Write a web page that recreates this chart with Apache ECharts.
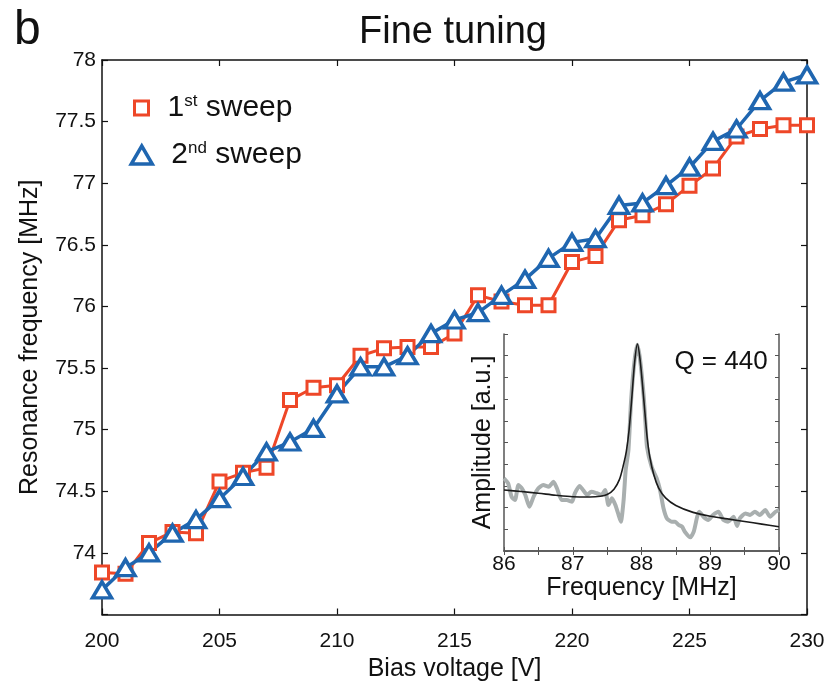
<!DOCTYPE html>
<html>
<head>
<meta charset="utf-8">
<script src="https://cdn.jsdelivr.net/npm/echarts@6/dist/echarts.min.js"></script>
<style>html,body{margin:0;padding:0;background:#fff}#c{width:830px;height:693px}</style>
</head>
<body>
<div id="c"></div>
<script>
// ---- data ----
var biasVoltage = [200,201,202,203,204,205,206,207,208,209,210,211,212,213,214,215,216,217,218,219,220,221,222,223,224,225,226,227,228,229,230];
var sweep1 = [73.84,73.83,74.08,74.17,74.16,74.58,74.65,74.69,75.24,75.34,75.36,75.60,75.66,75.67,75.67,75.78,76.09,76.04,76.01,76.01,76.36,76.41,76.70,76.74,76.83,76.98,77.12,77.38,77.44,77.47,77.47];
var sweep2 = [73.70,73.88,74.00,74.16,74.27,74.44,74.62,74.82,74.90,75.01,75.29,75.51,75.51,75.60,75.78,75.89,75.95,76.09,76.22,76.39,76.52,76.55,76.82,76.84,76.98,77.13,77.34,77.44,77.67,77.82,77.88];
var xTicksMain = [200,205,210,215,220,225,230];
var yTicksMain = [74,74.5,75,75.5,76,76.5,77,77.5,78];

// inset: measured amplitude (grey) and Lorentzian fit (black)
var measFreq = [86.00,86.06,86.11,86.16,86.21,86.26,86.31,86.37,86.43,86.50,86.57,86.65,86.72,86.77,86.84,86.91,86.99,87.03,87.10,87.15,87.21,87.27,87.35,87.42,87.47,87.52,87.57,87.62,87.66,87.70,87.74,87.77,87.81,87.85,87.90,87.94,87.98,88.03,88.06,88.08,88.15,88.22,88.27,88.32,88.37,88.44,88.49,88.54,88.59,88.63,88.71,88.76,88.81,88.84,88.90,88.97,89.04,89.12,89.19,89.26,89.34,89.39,89.43,89.51,89.58,89.65,89.72,89.80,89.87,89.95,90.00];
var measAmp = [3.35,3.12,2.50,2.35,3.04,2.89,2.58,2.04,2.50,2.89,3.04,2.96,3.19,2.89,2.35,2.35,2.27,2.66,3.00,2.81,2.58,2.73,2.66,2.58,2.81,2.12,2.43,2.12,1.73,1.35,2.35,3.73,4.65,7.00,8.80,9.50,8.80,7.20,5.80,4.80,3.85,3.35,2.81,1.97,1.50,1.35,1.35,1.20,1.12,0.89,0.63,0.89,1.58,1.81,1.58,1.43,1.66,1.81,1.43,1.35,1.58,1.15,1.50,1.73,1.66,1.81,1.66,1.89,1.58,1.81,1.89];
var fitFreq = [86.0,86.25,86.5,86.75,87.0,87.25,87.4,87.5,87.6,87.68,87.74,87.78,87.82,87.86,87.9,87.94,87.98,88.03,88.08,88.12,88.18,88.25,88.35,88.5,88.75,89.0,89.25,89.5,89.75,90.0];
var fitAmp = [2.81,2.74,2.66,2.57,2.50,2.49,2.52,2.60,2.85,3.30,4.00,4.60,5.60,7.10,8.70,9.54,8.80,7.10,5.30,4.35,3.50,2.90,2.45,2.10,1.78,1.60,1.48,1.36,1.24,1.12];
var insetXTicks = [86,87,88,89,90];

var RED = '#ee4728', BLUE = '#1f66b0', FONT = 'Liberation Sans, Arial, Helvetica, sans-serif';

function zip(a, b) { return a.map(function (v, i) { return [v, b[i]]; }); }

var chart = echarts.init(document.getElementById('c'), null, {renderer: 'canvas'});

var axisLineMain = {show: true, lineStyle: {color: '#111', width: 1.5}};
var axisLineInset = {show: true, lineStyle: {color: '#555', width: 1.5}};

var legendText = {
  fontFamily: FONT, fontSize: 30, color: '#111', padding: [0, 0, 0, 14],
  rich: {
    n: {fontFamily: FONT, fontSize: 30, color: '#111', lineHeight: 32},
    s: {fontFamily: FONT, fontSize: 17, color: '#111', lineHeight: 32, padding: [0, 0, 13, 0]}
  }
};

chart.setOption({
  animation: false,
  backgroundColor: '#fff',
  textStyle: {fontFamily: FONT},
  grid: [
    {left: 102, top: 60, width: 705, height: 554.5, containLabel: false},
    {left: 504, top: 334, width: 275, height: 217, containLabel: false}
  ],
  legend: [
    {
      orient: 'vertical', left: 133, top: 93, padding: 0, itemWidth: 14, itemHeight: 14,
      data: [{name: '1st sweep', icon: 'rect', itemStyle: {color: '#fff', borderColor: RED, borderWidth: 3}}],
      formatter: function () { return '{n|1}{s|st}{n| sweep}'; },
      textStyle: legendText
    },
    {
      orient: 'vertical', left: 129.5, top: 140, padding: 0, itemWidth: 21, itemHeight: 18,
      data: [{name: '2nd sweep', icon: 'triangle', itemStyle: {color: '#fff', borderColor: BLUE, borderWidth: 3.5}}],
      formatter: function () { return '{n|2}{s|nd}{n| sweep}'; },
      textStyle: legendText
    }
  ],
  xAxis: [
    {
      type: 'value', gridIndex: 0, min: 200, max: 230, interval: 5, position: 'bottom',
      axisLine: axisLineMain, axisTick: {show: true, inside: true, length: 6, lineStyle: {color: '#111', width: 1.2}},
      axisLabel: {fontSize: 21, color: '#111', margin: 16, fontFamily: FONT,
        formatter: function (v) { return xTicksMain.indexOf(v) >= 0 ? String(v) : ''; }},
      splitLine: {show: false},
      name: 'Bias voltage [V]', nameLocation: 'middle', nameGap: 32,
      nameTextStyle: {fontSize: 25, color: '#111', fontFamily: FONT, verticalAlign: 'top'}
    },
    {
      type: 'value', gridIndex: 0, min: 200, max: 230, interval: 5, position: 'top',
      axisLine: axisLineMain, axisTick: {show: true, inside: true, length: 6, lineStyle: {color: '#111', width: 1.2}},
      axisLabel: {show: false}, splitLine: {show: false}
    },
    {
      type: 'value', gridIndex: 1, min: 86, max: 90, interval: 0.5, position: 'bottom',
      axisLine: axisLineInset, axisTick: {show: true, inside: true, length: 4, lineStyle: {color: '#555', width: 1}},
      axisLabel: {fontSize: 21, color: '#111', margin: 3, fontFamily: FONT,
        formatter: function (v) { return insetXTicks.indexOf(v) >= 0 ? String(v) : ''; }},
      splitLine: {show: false},
      name: 'Frequency [MHz]', nameLocation: 'middle', nameGap: 19,
      nameTextStyle: {fontSize: 25, color: '#111', fontFamily: FONT, verticalAlign: 'top'}
    },
    {
      type: 'value', gridIndex: 1, min: 86, max: 90, interval: 0.5, position: 'top',
      axisLine: axisLineInset, axisTick: {show: true, inside: true, length: 4, lineStyle: {color: '#555', width: 1}},
      axisLabel: {show: false}, splitLine: {show: false}
    }
  ],
  yAxis: [
    {
      type: 'value', gridIndex: 0, min: 73.5, max: 78, interval: 0.5, position: 'left',
      axisLine: axisLineMain, axisTick: {show: true, inside: true, length: 6, lineStyle: {color: '#111', width: 1.2}},
      axisLabel: {fontSize: 21, color: '#111', margin: 6, fontFamily: FONT,
        formatter: function (v) { return yTicksMain.indexOf(v) >= 0 ? String(v) : ''; }},
      splitLine: {show: false},
      name: 'Resonance frequency [MHz]', nameLocation: 'middle', nameGap: 59, nameRotate: 90,
      nameTextStyle: {fontSize: 25, color: '#111', fontFamily: FONT}
    },
    {
      type: 'value', gridIndex: 0, min: 73.5, max: 78, interval: 0.5, position: 'right',
      axisLine: axisLineMain, axisTick: {show: true, inside: true, length: 6, lineStyle: {color: '#111', width: 1.2}},
      axisLabel: {show: false}, splitLine: {show: false}
    },
    {
      type: 'value', gridIndex: 1, min: 0, max: 10, interval: 1, position: 'left',
      axisLine: axisLineInset, axisTick: {show: true, inside: true, length: 4, lineStyle: {color: '#555', width: 1}},
      axisLabel: {show: false}, splitLine: {show: false},
      name: 'Amplitude [a.u.]', nameLocation: 'middle', nameGap: 8, nameRotate: 90,
      nameTextStyle: {fontSize: 25, color: '#111', fontFamily: FONT}
    },
    {
      type: 'value', gridIndex: 1, min: 0, max: 10, interval: 1, position: 'right',
      axisLine: axisLineInset, axisTick: {show: true, inside: true, length: 4, lineStyle: {color: '#555', width: 1}},
      axisLabel: {show: false}, splitLine: {show: false}
    }
  ],
  graphic: [
    {type: 'text', left: 14, top: 7, style: {text: 'b', font: '48px ' + FONT, fill: '#111'}},
    {type: 'text', x: 453, y: 33, style: {text: 'Fine tuning', font: '38px ' + FONT, fill: '#111', textAlign: 'center', textVerticalAlign: 'middle'}},
    {type: 'text', x: 721, y: 362, z: 10, style: {text: 'Q = 440', font: '26px ' + FONT, fill: '#111', textAlign: 'center', textVerticalAlign: 'middle'}}
  ],
  series: [
    {
      name: '1st sweep', type: 'line', xAxisIndex: 0, yAxisIndex: 0, clip: false,
      data: zip(biasVoltage, sweep1),
      symbol: 'rect', symbolSize: 13,
      lineStyle: {color: RED, width: 3},
      itemStyle: {color: '#fff', borderColor: RED, borderWidth: 3}
    },
    {
      name: '2nd sweep', type: 'line', xAxisIndex: 0, yAxisIndex: 0, clip: false,
      data: zip(biasVoltage, sweep2),
      symbol: 'triangle', symbolSize: [19, 16],
      lineStyle: {color: BLUE, width: 3.5},
      itemStyle: {color: '#fff', borderColor: BLUE, borderWidth: 3.5}
    },
    {
      name: 'measured', type: 'line', xAxisIndex: 2, yAxisIndex: 2,
      data: zip(measFreq, measAmp), showSymbol: false, symbol: 'none', smooth: 0.2,
      lineStyle: {color: '#a9afaf', width: 4}
    },
    {
      name: 'fit', type: 'line', xAxisIndex: 2, yAxisIndex: 2,
      data: zip(fitFreq, fitAmp), showSymbol: false, symbol: 'none', smooth: 0.3,
      lineStyle: {color: '#1b1b1b', width: 1.6}
    }
  ]
});
</script>
</body>
</html>
